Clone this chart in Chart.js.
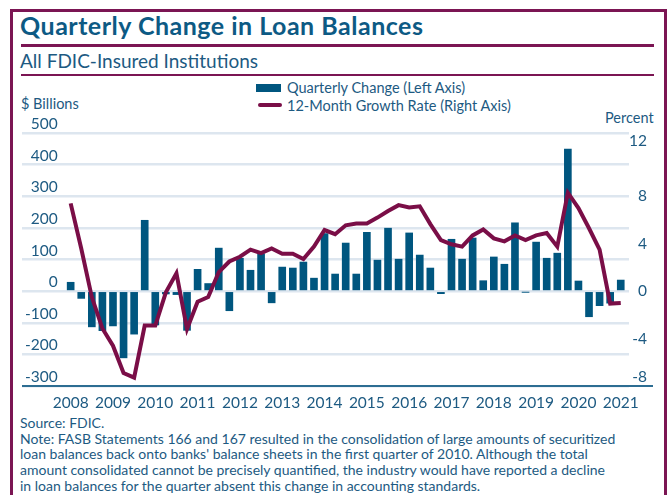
<!DOCTYPE html>
<html>
<head>
<meta charset="utf-8">
<script src="https://cdn.jsdelivr.net/npm/chart.js@4.4.0/dist/chart.umd.min.js"></script>
<style>
  html, body { margin: 0; padding: 0; background: #fff; }
  body { width: 668px; height: 495px; position: relative; overflow: hidden;
         font-family: Lato, 'Open Sans', sans-serif; color: #1d5a82; }
  .abs { position: absolute; white-space: nowrap; }
  .frame { position: absolute; left: 10px; top: 9px; width: 651px; height: 520px; border: 3px solid #7b1553; }
  .title { left: 20px; top: 13px; font-size: 25px; line-height: 25px; font-weight: 700; letter-spacing: 0.5px; color: #0d5a84; }
  .sub { left: 20px; top: 51px; font-size: 19px; line-height: 19px; color: #1d5a82; }
  .rule { position: absolute; left: 21px; width: 633px; background: #7b1553; }
  .leg { font-size: 14.5px; line-height: 16px; }
  .swatch { position: absolute; }
  .axt { font-size: 14.5px; line-height: 16px; }
  .notes { left: 20px; top: 415px; font-size: 14px; line-height: 15.7px; }
  canvas { position: absolute; left: 0; top: 80px; }
</style>
</head>
<body>
<div class="frame"></div>
<div class="abs title">Quarterly Change in Loan Balances</div>
<div class="rule" style="top:44px;height:2.5px"></div>
<div class="abs sub">All FDIC-Insured Institutions</div>
<div class="rule" style="top:74px;height:1.5px"></div>

<div class="swatch" id="swBar" style="left:256px;top:84px;width:25px;height:8px"></div>
<div class="swatch" id="swLine" style="left:258px;top:103px;width:24px;height:4px;border-radius:2px"></div>
<div class="abs leg" id="leg0" style="left:287px;top:80px"></div>
<div class="abs leg" id="leg1" style="left:287px;top:98px"></div>

<div class="abs axt" id="leftTitle" style="left:21px;top:96px"></div>
<div class="abs axt" id="rightTitle" style="left:605px;top:110px"></div>

<canvas id="chart" width="668" height="330"></canvas>

<div class="abs notes">Source: FDIC.<br>Note: FASB Statements 166 and 167 resulted in the consolidation of large amounts of securitized<br>loan balances back onto banks' balance sheets in the first quarter of 2010. Although the total<br>amount consolidated cannot be precisely quantified, the industry would have reported a decline<br>in loan balances for the quarter absent this change in accounting standards.</div>

<script>
/* Quarterly change in loan balances ($B, left) + 12-month growth rate (%, right) */

const quarters = [
  '2008Q2','2008Q3','2008Q4','2009Q1','2009Q2','2009Q3','2009Q4','2010Q1','2010Q2','2010Q3','2010Q4',
  '2011Q1','2011Q2','2011Q3','2011Q4','2012Q1','2012Q2','2012Q3','2012Q4','2013Q1','2013Q2','2013Q3','2013Q4',
  '2014Q1','2014Q2','2014Q3','2014Q4','2015Q1','2015Q2','2015Q3','2015Q4','2016Q1','2016Q2','2016Q3','2016Q4',
  '2017Q1','2017Q2','2017Q3','2017Q4','2018Q1','2018Q2','2018Q3','2018Q4','2019Q1','2019Q2','2019Q3','2019Q4',
  '2020Q1','2020Q2','2020Q3','2020Q4','2021Q1','2021Q2'
];
const quarterlyChange = [
  28, -23, -113, -125, -110, -211, -136, 224, -107, -9, -11,
  -124, 69, 24, 136, -62, 104, 66, 118, -37, 76, 73, 92,
  41, 182, 54, 152, 54, 186, 98, 199, 101, 184, 114, 73,
  -8, 164, 101, 168, 33, 108, 85, 216, -3, 155, 104, 120,
  449, 32, -81, -46, -38, 35
];
const growthRate = [
  7.4, 3.6, -0.5, -3.15, -4.6, -6.9, -7.3, -2.9, -2.9, -0.1, 1.5,
  -3.2, -0.9, -0.5, 1.6, 2.5, 2.9, 3.5, 3.2, 3.6, 3.15, 3.15, 2.7,
  3.75, 5.15, 4.8, 5.55, 5.7, 5.7, 6.2, 6.75, 7.25, 7.05, 7.15, 5.65,
  4.3, 3.95, 3.75, 4.7, 5.2, 4.45, 4.2, 4.7, 4.3, 4.7, 4.9, 3.75,
  8.3, 7.0, 5.3, 3.5, -1.05, -1.0
];
const seriesNames = ['Quarterly Change (Left Axis)', '12-Month Growth Rate (Right Axis)'];
const yearLabels = ['2008','2009','2010','2011','2012','2013','2014','2015','2016','2017','2018','2019','2020','2021'];
const leftTicks = [-300, -200, -100, 0, 100, 200, 300, 400, 500];
const rightTicks = [-8, -4, 0, 4, 8, 12];
const axisTitles = ['$ Billions', 'Percent'];

const BAR = '#00567f';
const LINE = '#7a0e47';
const GRID = '#dde6ef';
const AXIS = '#2d6d92';
const TXT = '#1d5a82';
const FONT = { family: "Lato, 'Open Sans', sans-serif", size: 15.5 };

document.getElementById('swBar').style.background = BAR;
document.getElementById('swLine').style.background = LINE;
document.getElementById('leg0').textContent = seriesNames[0];
document.getElementById('leg1').textContent = seriesNames[1];
document.getElementById('leftTitle').textContent = axisTitles[0];
document.getElementById('rightTitle').textContent = axisTitles[1];

// bottom axis rule runs a bit past the plot, under the right-hand labels
const baseLine = {
  id: 'baseLine',
  afterDraw(chart) {
    const { ctx, chartArea: a } = chart;
    const y = chart.scales.y.getPixelForValue(leftTicks[0]);
    ctx.save();
    ctx.strokeStyle = AXIS;
    ctx.lineWidth = 2;
    ctx.beginPath();
    ctx.moveTo(a.left, y);
    ctx.lineTo(a.right + 24, y);
    ctx.stroke();
    ctx.restore();
  }
};

// the end labels of the right axis sit a little higher, as in the source chart
const nudgeEnds = {
  id: 'nudgeEnds',
  afterLayout(chart) {
    const items = chart.scales.y1.getLabelItems(chart.chartArea);
    if (!items.length) return;
    items[0].options.translation[1] -= 9;
    items[items.length - 1].options.translation[1] -= 8;
  }
};

new Chart(document.getElementById('chart'), {
  type: 'bar',
  data: {
    datasets: [
      {
        type: 'line',
        label: seriesNames[1],
        data: growthRate.map((v, i) => ({ x: i, y: v })),
        yAxisID: 'y1',
        borderColor: LINE,
        borderWidth: 4,
        pointRadius: 0,
        tension: 0,
        order: 0,
      },
      {
        type: 'bar',
        label: seriesNames[0],
        data: quarterlyChange.map((v, i) => ({ x: i, y: v })),
        yAxisID: 'y',
        backgroundColor: BAR,
        barThickness: 7,
        order: 1,
      },
    ],
  },
  options: {
    responsive: false,
    animation: false,
    devicePixelRatio: 1,
    layout: { padding: { top: 53, left: 0, right: 21, bottom: 0 } },
    plugins: { legend: { display: false }, tooltip: { enabled: false } },
    scales: {
      x: {
        type: 'linear',
        min: -4.6,
        max: 52.78,
        offset: false,
        grid: { display: false, offset: false },
        border: { display: false },
        afterBuildTicks: (s) => { s.ticks = yearLabels.map((_, i) => ({ value: i * 4 })); },
        afterFit: (s) => { s.height = 24; },
        ticks: {
          autoSkip: false, maxRotation: 0, padding: 0, color: TXT, font: FONT,
          callback: (v, i) => yearLabels[i],
        },
      },
      y: {
        position: 'left',
        min: leftTicks[0],
        max: leftTicks[leftTicks.length - 1],
        afterBuildTicks: (s) => { s.ticks = leftTicks.map((v) => ({ value: v })); },
        afterFit: (s) => { s.width = 22; },
        grid: { color: GRID, lineWidth: 2.5, drawTicks: false },
        border: { display: false },
        ticks: { mirror: true, crossAlign: 'far', padding: 3, labelOffset: -9, color: TXT, font: FONT },
      },
      y1: {
        position: 'right',
        min: -8,
        max: 500 / 37.5,
        afterBuildTicks: (s) => { s.ticks = rightTicks.map((v) => ({ value: v })); },
        afterFit: (s) => { s.width = 18; },
        grid: { display: false, drawTicks: false },
        border: { display: false },
        ticks: { crossAlign: 'far', padding: 0, color: TXT, font: FONT },
      },
    },
  },
  plugins: [baseLine, nudgeEnds],
});
</script>
</body>
</html>
